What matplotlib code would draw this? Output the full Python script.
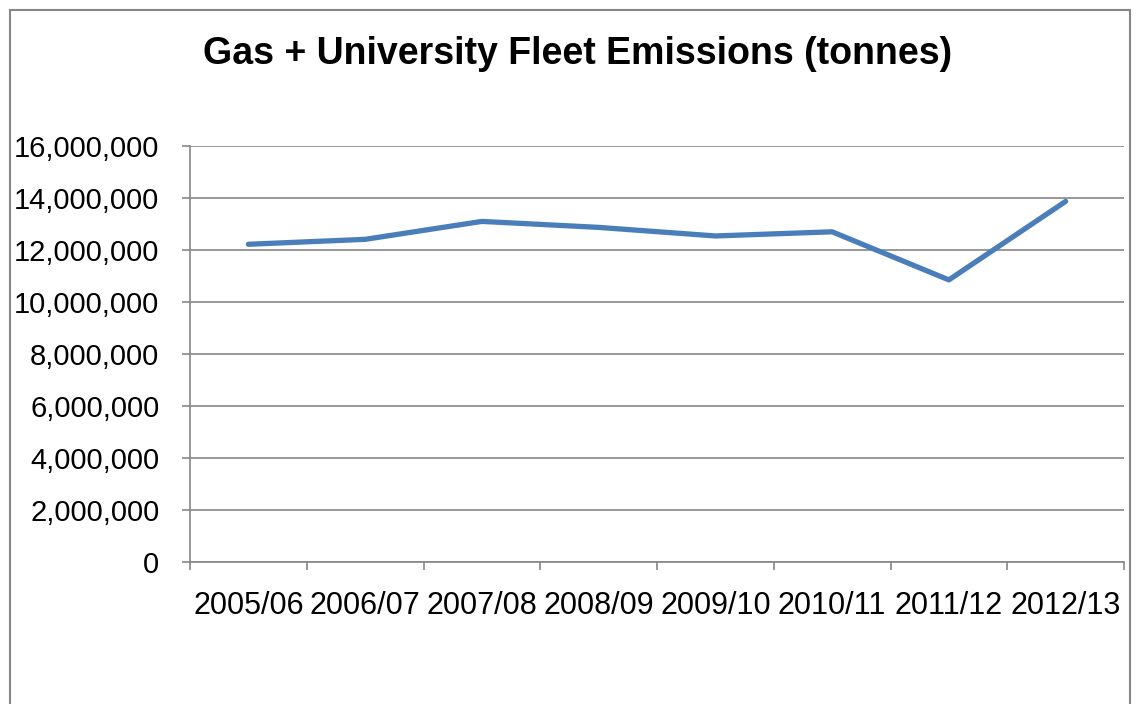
import matplotlib
matplotlib.use("Agg")
import matplotlib.pyplot as plt
from matplotlib.patches import Rectangle
from matplotlib.ticker import FuncFormatter, FixedLocator

# Chart data
years = ["2005/06", "2006/07", "2007/08", "2008/09",
         "2009/10", "2010/11", "2011/12", "2012/13"]
emissions = [12220000, 12410000, 13100000, 12870000,
             12540000, 12700000, 10850000, 13870000]
y_ticks = [0, 2000000, 4000000, 6000000, 8000000,
           10000000, 12000000, 14000000, 16000000]

plt.rcParams['font.family'] = ['Liberation Sans', 'DejaVu Sans']
grey = "#868686"

fig = plt.figure(figsize=(11.39, 7.04), dpi=100)

# outer chart border (bottom runs off the image)
fig.patches.append(Rectangle((10 / 1139, -0.05), 1120 / 1139, 1.05 - 10 / 704,
                             transform=fig.transFigure, fill=False,
                             edgecolor=grey, linewidth=1.5))

ax = fig.add_axes([190 / 1139, 1 - 562 / 704, 934 / 1139, 416 / 704])

x = list(range(len(years)))
ax.plot(x, emissions, color="#4A7EBB", linewidth=3.8, solid_capstyle="round",
        solid_joinstyle="round", zorder=3)

ax.set_xlim(-0.5, len(years) - 0.5)
ax.set_ylim(0, 16000000)
ax.set_yticks(y_ticks)
ax.yaxis.set_major_formatter(FuncFormatter(lambda v, p: f"{int(v):,}"))
ax.grid(axis="y", color=grey, linewidth=1.2)
ax.set_axisbelow(True)

ax.set_xticks(x)
ax.set_xticklabels(years)
ax.xaxis.set_minor_locator(FixedLocator([i - 0.5 for i in range(len(years) + 1)]))
ax.tick_params(axis="x", which="major", length=0, pad=21, labelsize=22)
ax.tick_params(axis="x", which="minor", length=6, color=grey, width=1.2)
ax.tick_params(axis="y", length=6, color=grey, width=1.2, pad=16, labelsize=21)

for side in ["top", "right"]:
    ax.spines[side].set_visible(False)
for side in ["left", "bottom"]:
    ax.spines[side].set_color(grey)
    ax.spines[side].set_linewidth(1.2)

fig.text(0.5075, 1 - 54 / 704, "Gas + University Fleet Emissions (tonnes)",
         ha="center", va="center", fontsize=27, fontweight="bold")

fig.savefig("out.png", dpi=100)
